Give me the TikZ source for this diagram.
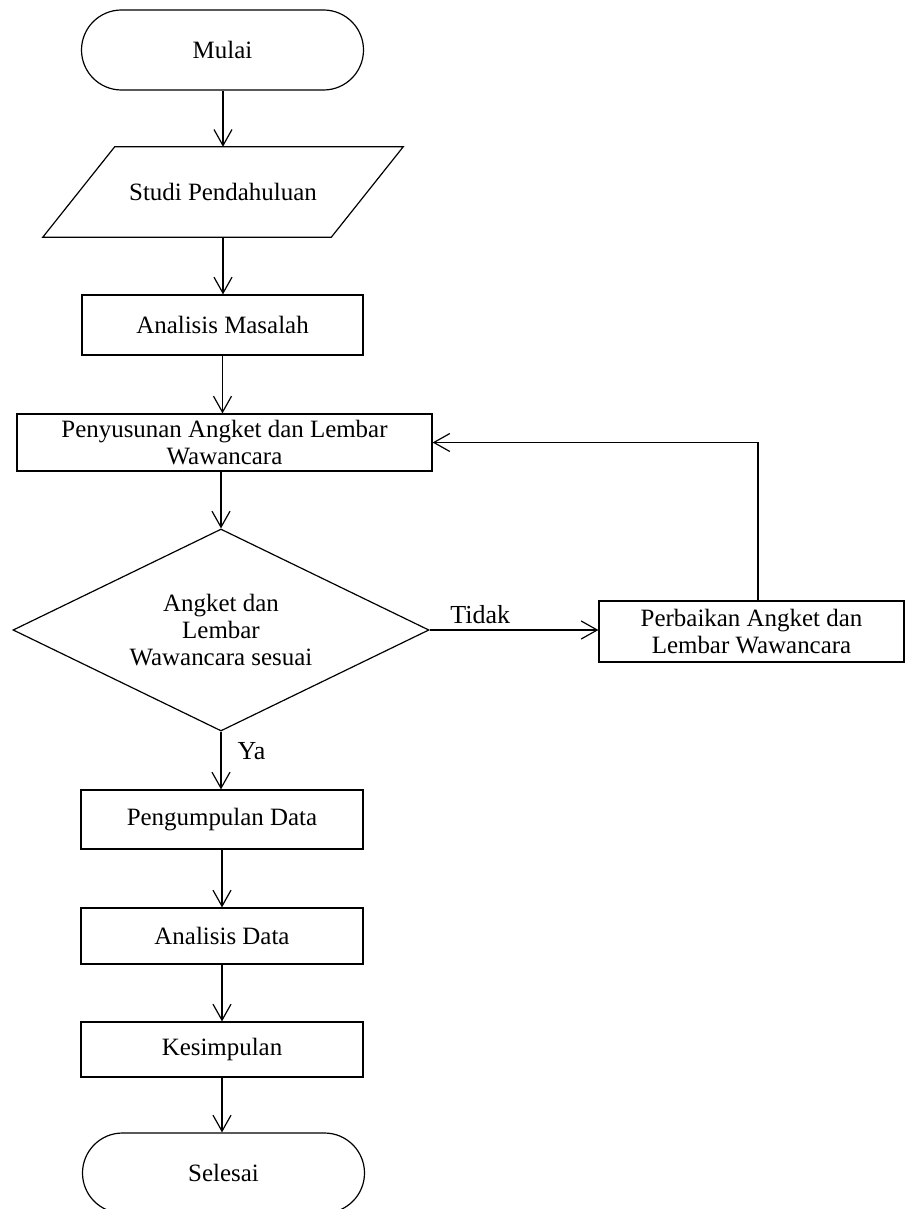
\documentclass[tikz,border=0pt]{standalone}
\usepackage{fontspec}
\setmainfont{Liberation Serif}
\usetikzlibrary{shapes.geometric,arrows.meta}
\begin{document}
\begin{tikzpicture}[x=0.75pt,y=-0.75pt,
  every node/.style={font=\fontsize{18.7pt}{20.3pt}\selectfont, inner sep=0pt, align=center},
  term/.style={draw, rectangle, rounded corners=30pt, minimum width=211.5pt, minimum height=60pt, line width=0.9pt},
  proc/.style={draw, rectangle, line width=0.9pt},
  iobody/.style={rectangle, minimum width=216pt, minimum height=67.5pt},
  decide/.style={draw, diamond, aspect=2.06, minimum width=312pt, minimum height=151.5pt, line width=0.9pt},
  flow/.style={line width=0.9pt, -{Straight Barb[length=12pt,width=13.5pt,line width=0.9pt]}},
  lbl/.style={font=\fontsize{19.5pt}{21pt}\selectfont}
]
\useasboundingbox (0,0) rectangle (912,1209);
\fill[white] (0,0) rectangle (912,1209);

\node[term] (mulai) at (222.5,50) {Mulai};
\node[iobody] (studi) at (223,192) {Studi Pendahuluan};
\draw[line width=0.9pt] ([xshift=27pt]studi.north west) -- ([xshift=27pt]studi.north east)
  -- ([xshift=-27pt]studi.south east) -- ([xshift=-27pt]studi.south west) -- cycle;
\node[proc, minimum width=210.75pt, minimum height=45pt] (am) at (222.5,325) {Analisis Masalah};
\node[proc, minimum width=311.25pt, minimum height=42.75pt] (pen) at (224.5,442.5) {Penyusunan Angket dan Lembar\\Wawancara};
\node[decide] (dec) at (221,630) {Angket dan\\Lembar\\Wawancara sesuai};
\node[proc, minimum width=228.75pt, minimum height=45.75pt] (perb) at (751.5,631.5) {Perbaikan Angket dan\\Lembar Wawancara};
\node[proc, minimum width=211.5pt, minimum height=44.25pt] (pd) at (222,819.5) {Pengumpulan Data};
\node[proc, minimum width=211.5pt, minimum height=42pt] (ad) at (222,936) {Analisis Data};
\node[proc, minimum width=211.5pt, minimum height=41.25pt] (kes) at (222,1049.5) {Kesimpulan};
\node[term] (sel) at (223.5,1173) {Selesai};

\draw[flow] (mulai.south -| studi.north) -- (studi.north);
\draw[flow] (studi.south) -- (studi.south |- am.north);
\draw[flow] (am.south) -- (am.south |- pen.north);
\draw[flow] (pen.south -| dec.north) -- (dec.north);
\draw[flow] (dec.east) -- node[lbl, pos=0.3, above=4pt] {Tidak} (dec.east -| perb.west);
\draw[flow] ([xshift=4.9pt]perb.north) |- (pen.east);
\draw[flow] (dec.south) -- node[lbl, pos=0.34, right=12pt] {Ya} (dec.south |- pd.north);
\draw[flow] (pd.south) -- (ad.north);
\draw[flow] (ad.south) -- (kes.north);
\draw[flow] (kes.south) -- (kes.south |- sel.north);
\end{tikzpicture}
\end{document}
